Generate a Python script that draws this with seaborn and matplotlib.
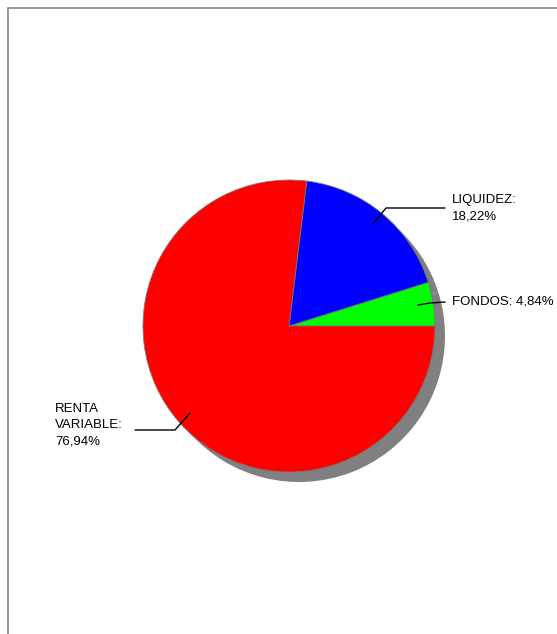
import numpy as np
import matplotlib.pyplot as plt
import seaborn as sns
from matplotlib.patches import Rectangle

sns.set_style("white")
plt.rcParams['font.family'] = ['Liberation Sans', 'DejaVu Sans']

labels = ["FONDOS: 4,84%", "LIQUIDEZ:\n18,22%", "RENTA\nVARIABLE:\n76,94%"]
values = [4.84, 18.22, 76.94]
colors = ["#00ff00", "#0000ff", "#ff0000"]

W, H = 557, 634
fig = plt.figure(figsize=(W / 100, H / 100), dpi=100)
ax = fig.add_axes([0, 0, 1, 1])

cx, cy, r = 289, H - 326, 146
ax.pie(values, colors=["#808080"] * 3, startangle=0, radius=r, center=(cx + 10, cy - 10),
       frame=True, wedgeprops=dict(linewidth=0))
ax.pie(values, colors=colors, startangle=0, radius=r, center=(cx, cy), frame=True,
       wedgeprops=dict(edgecolor="#777777", linewidth=0.6))
ax.set_xlim(0, W)
ax.set_ylim(0, H)
ax.set_aspect("equal")
ax.axis("off")

ax.add_patch(Rectangle((8, -5), 560, H - 8 + 5, fill=False, edgecolor="#888888", lw=1.2))

# leader lines: start point, elbow, end (pixel coords), text position
specs = [
    ((418, 305), (430, 303), (445, 302), (452, 302), "center"),
    ((373, 224), (386, 208), (445, 208), (452, 194), "top"),
    ((190, 413), (175, 430), (135, 430), (55, 403), "top"),
]
for lab, (p, elbow, end, tpos, va) in zip(labels, specs):
    xs = [p[0], elbow[0], end[0]]
    ys = [H - p[1], H - elbow[1], H - end[1]]
    ax.plot(xs, ys, color="black", lw=1)
    ax.text(tpos[0], H - tpos[1], lab, ha="left", va=va, fontsize=9.5,
            linespacing=1.5, color="black")

fig.savefig("out.png", dpi=100)
